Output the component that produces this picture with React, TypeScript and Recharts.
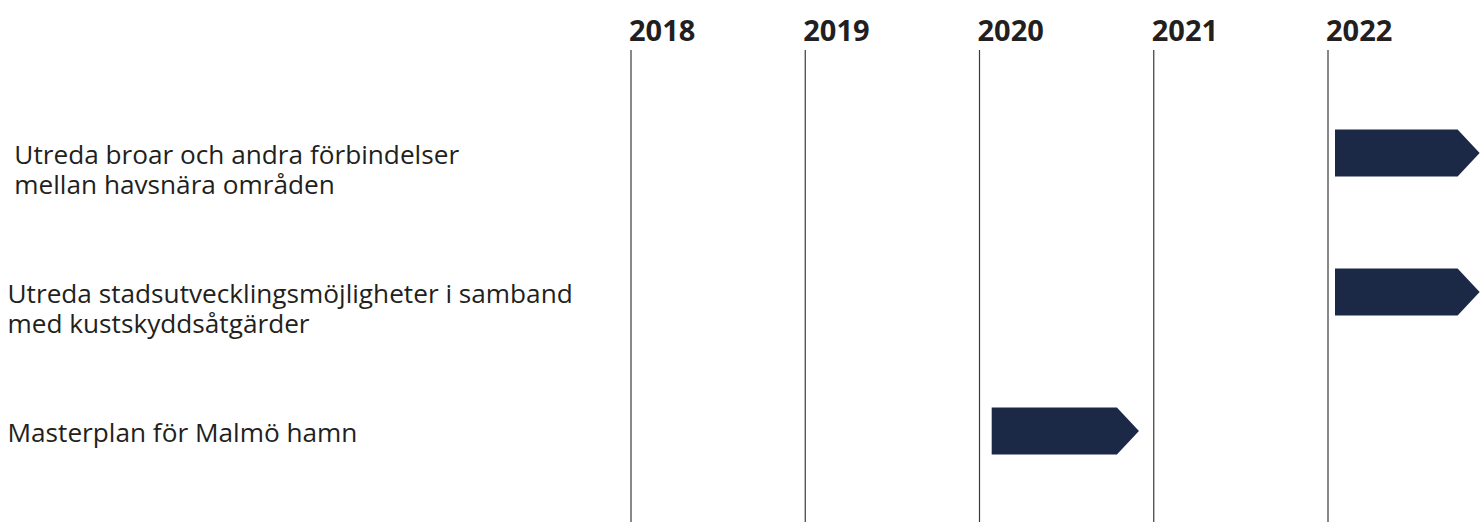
import React from "react";
import { BarChart, Bar, XAxis, YAxis, ReferenceLine } from "recharts";

const tasks = [
  " Utreda broar och andra förbindelser\n mellan havsnära områden",
  "Utreda stadsutvecklingsmöjligheter i samband\nmed kustskyddsåtgärder",
  "Masterplan för Malmö hamn",
];
const starts = [2022.04, 2022.04, 2020.07];
const ends = [2022.87, 2022.87, 2020.915];
const years = [2018, 2019, 2020, 2021, 2022];

const data = tasks.map((name, i) => ({ name, span: [starts[i], ends[i]] }));

const TEXT = "#231f20";
const NAVY = "#1b2947";
const FONT = "'Open Sans', sans-serif";

const YearTick = (props: any) => {
  const { x, payload } = props;
  return (
    <text x={x - 2} y={40.5} textAnchor="start" fontFamily={FONT} fontWeight={700} fontSize={29} fill={TEXT}>
      {payload.value}
    </text>
  );
};

const TaskTick = (props: any) => {
  const { y, payload } = props;
  const lines = String(payload.value).split("\n");
  return (
    <text x={7.5} y={y + 10.5} textAnchor="start" fontFamily={FONT} fontSize={26.2} fill={TEXT} style={{ whiteSpace: "pre" }}>
      {lines.map((l, i) => (
        <tspan key={i} x={7.5} dy={i === 0 ? 0 : 30}>
          {l}
        </tspan>
      ))}
    </text>
  );
};

const ArrowBar = (props: any) => {
  const { x, y, width, height, fill } = props;
  if (width == null || width <= 0) return null;
  const a = Math.min(22, width);
  const d = `M${x},${y} L${x + width - a},${y} L${x + width},${y + height / 2} L${x + width - a},${y + height} L${x},${y + height} Z`;
  return <path d={d} fill={fill} />;
};

export default function App() {
  return (
    <div style={{ position: "absolute", left: 0, top: 0, width: 1480, height: 522, background: "#fff" }}>
      <BarChart
        width={1480}
        height={522}
        data={data}
        layout="vertical"
        margin={{ top: 0, right: 0, bottom: 0, left: 0 }}
      >
        <XAxis
          type="number"
          orientation="top"
          domain={[2014.3845, 2022.8723]}
          allowDataOverflow
          ticks={years}
          height={50}
          axisLine={false}
          tickLine={false}
          tick={<YearTick />}
          interval={0}
        />
        <YAxis
          type="category"
          dataKey="name"
          width={1}
          axisLine={false}
          tickLine={false}
          tick={<TaskTick />}
          padding={{ top: 33.5, bottom: 21.5 }}
          interval={0}
        />
        {years.map((yr) => (
          <ReferenceLine key={yr} x={yr} stroke="#3a3a3a" strokeWidth={1.2} ifOverflow="visible" />
        ))}
        <Bar dataKey="span" fill={NAVY} barSize={47} shape={<ArrowBar />} isAnimationActive={false} />
      </BarChart>
    </div>
  );
}
